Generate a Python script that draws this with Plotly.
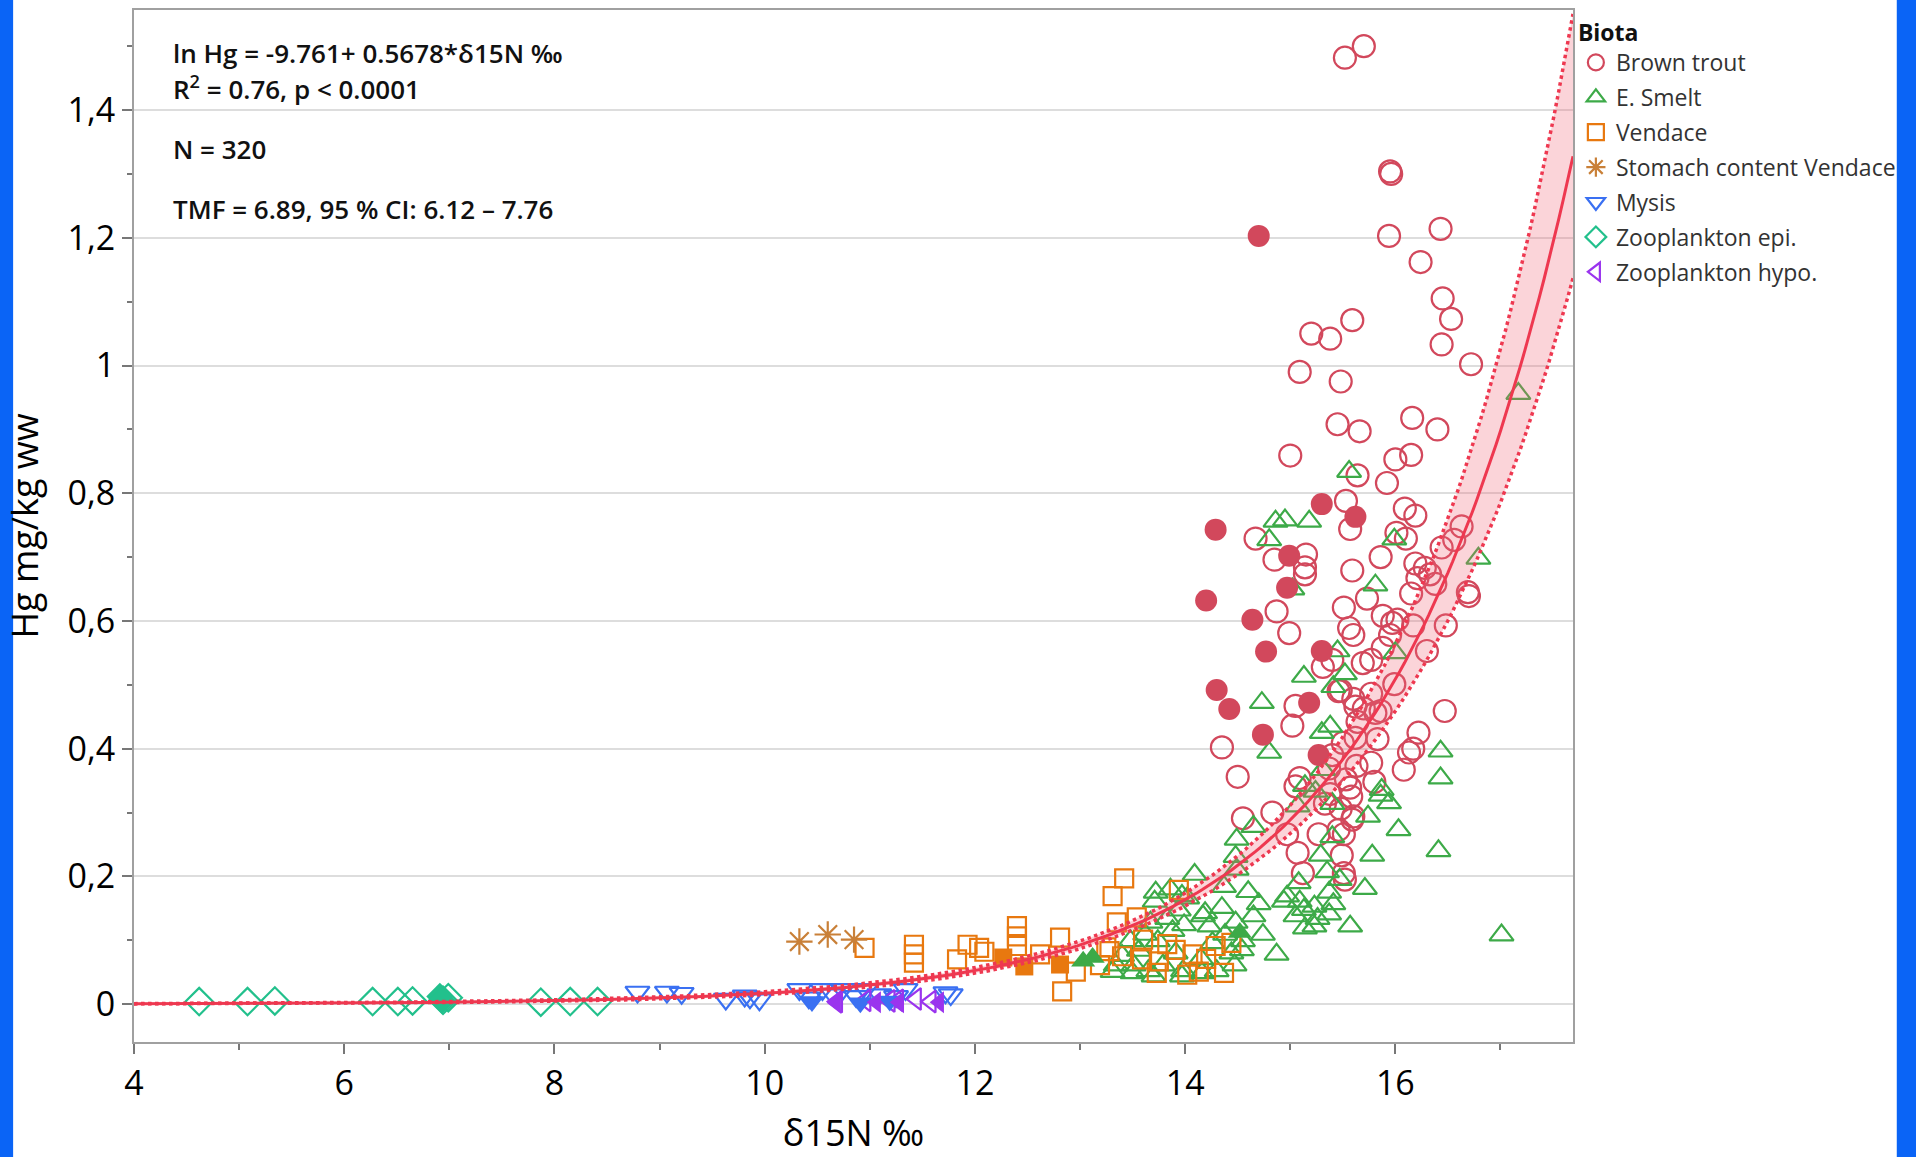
import numpy as np
import plotly.graph_objects as go

# ---------------- data ----------------
trout_x = [15.52, 15.70, 15.95, 15.96, 15.94, 16.43, 16.24, 16.45, 16.53, 16.44, 16.72, 15.59, 15.20, 15.38,
           15.09, 15.48, 15.45, 15.66, 15.00, 16.16, 16.40, 16.15, 16.00, 15.64, 15.92, 15.53, 16.09, 16.19,
           15.57, 16.01, 16.10, 16.63, 16.56, 14.67, 14.85, 15.15, 15.14, 15.14, 14.87, 15.59, 15.86, 16.19,
           16.21, 16.15, 16.44, 16.38, 16.33, 16.70, 16.69, 15.73, 15.51, 15.88, 16.02, 16.17, 16.48, 14.99,
           15.56, 15.60, 15.88, 15.95, 15.77, 15.69, 15.40, 15.31, 16.30, 15.48, 15.60, 15.70, 15.64, 15.05,
           15.02, 15.86, 16.47, 15.77, 15.99, 15.50, 15.62, 15.83, 16.22, 16.17, 16.13, 16.08, 14.35, 14.50,
           15.09, 15.40, 15.37, 15.53, 15.63, 15.80, 15.38, 15.58, 15.33, 15.48, 15.60, 14.55, 14.83, 14.97,
           15.27, 15.51, 15.49, 15.07, 15.12, 15.51, 15.52, 15.05, 15.77, 16.28, 15.97, 15.46, 15.62, 15.81,
           15.57, 15.46, 15.59]
trout_y = [1.482, 1.500, 1.304, 1.300, 1.203, 1.214, 1.162, 1.105, 1.073, 1.033, 1.002, 1.071, 1.050, 1.042,
           0.990, 0.975, 0.908, 0.897, 0.859, 0.918, 0.900, 0.860, 0.853, 0.828, 0.816, 0.788, 0.776, 0.765,
           0.744, 0.738, 0.729, 0.748, 0.727, 0.729, 0.696, 0.704, 0.684, 0.673, 0.615, 0.679, 0.700, 0.690,
           0.667, 0.643, 0.715, 0.658, 0.673, 0.639, 0.645, 0.635, 0.621, 0.608, 0.602, 0.593, 0.593, 0.581,
           0.589, 0.578, 0.558, 0.578, 0.539, 0.534, 0.539, 0.528, 0.553, 0.491, 0.478, 0.463, 0.442, 0.467,
           0.436, 0.459, 0.459, 0.486, 0.501, 0.409, 0.417, 0.415, 0.425, 0.400, 0.394, 0.367, 0.402, 0.356,
           0.354, 0.390, 0.369, 0.352, 0.373, 0.348, 0.329, 0.325, 0.314, 0.306, 0.294, 0.291, 0.300, 0.266,
           0.266, 0.266, 0.233, 0.237, 0.205, 0.205, 0.195, 0.341, 0.378, 0.683, 0.597, 0.490, 0.466, 0.456,
           0.339, 0.273, 0.289]
trout_fill_x = [14.70, 14.29, 14.20, 14.64, 14.77, 15.30, 15.62, 14.99, 14.97, 15.30, 14.30, 14.42, 14.74, 15.18, 15.27]
trout_fill_y = [1.203, 0.743, 0.632, 0.602, 0.552, 0.783, 0.763, 0.702, 0.652, 0.553, 0.492, 0.462, 0.422, 0.472, 0.390]

smelt_x = [17.17, 16.79, 15.56, 14.86, 14.95, 15.18, 14.80, 15.02, 15.81, 15.99, 15.52, 15.13, 14.73, 14.80,
           15.45, 15.41, 15.38, 15.30, 16.00, 16.43, 16.43, 16.41, 16.03, 15.94, 15.86, 15.78, 15.74, 15.71,
           15.87, 14.49, 14.65, 14.48, 15.07, 15.14, 15.24, 15.31, 15.40, 15.29, 15.40, 15.35, 15.47, 15.37,
           15.08, 15.13, 14.97, 15.23, 15.09, 15.23, 14.94, 15.05, 15.14, 15.41, 15.37, 15.57, 15.26, 14.87,
           14.70, 14.65, 14.74, 14.60, 14.49, 14.37, 14.35, 14.48, 14.55, 14.54, 17.01, 14.09, 14.02, 13.94,
           13.86, 13.97, 13.72, 13.83, 13.71, 13.67, 13.62, 13.74, 13.88, 13.99, 14.17, 14.19, 14.23, 14.26,
           14.15, 13.91, 13.79, 13.65, 13.51, 13.40, 13.34, 13.48, 13.56, 13.98, 13.97, 13.70, 13.50, 13.31,
           14.16, 14.44, 14.38, 14.47, 14.30]
smelt_y = [0.956, 0.698, 0.834, 0.756, 0.758, 0.756, 0.727, 0.650, 0.656, 0.728, 0.517, 0.513, 0.472, 0.394,
           0.553, 0.497, 0.435, 0.425, 0.550, 0.396, 0.354, 0.240, 0.273, 0.315, 0.327, 0.233, 0.294, 0.181,
           0.336, 0.258, 0.278, 0.231, 0.310, 0.342, 0.333, 0.367, 0.314, 0.233, 0.262, 0.207, 0.195, 0.175,
           0.190, 0.148, 0.169, 0.122, 0.161, 0.153, 0.161, 0.138, 0.119, 0.157, 0.141, 0.122, 0.134, 0.078,
           0.157, 0.138, 0.109, 0.176, 0.211, 0.184, 0.151, 0.128, 0.099, 0.085, 0.108, 0.203, 0.166, 0.147,
           0.180, 0.170, 0.175, 0.134, 0.161, 0.128, 0.109, 0.099, 0.115, 0.124, 0.138, 0.143, 0.122, 0.096,
           0.071, 0.080, 0.061, 0.052, 0.061, 0.076, 0.061, 0.099, 0.084, 0.052, 0.044, 0.044, 0.049, 0.051,
           0.049, 0.080, 0.109, 0.061, 0.052]
smelt_fill_x = [13.03, 13.12, 14.52]
smelt_fill_y = [0.067, 0.073, 0.112]

vendace_x = [10.95, 11.42, 11.42, 11.42, 11.83, 11.93, 12.04, 12.09, 12.40, 12.40, 12.40, 12.62, 12.81, 12.83,
             12.96, 13.19, 13.25, 13.31, 13.35, 13.40, 13.42, 13.54, 13.59, 13.60, 13.73, 13.75, 13.83, 13.91,
             13.94, 14.02, 14.07, 14.13, 14.29, 14.37, 14.44, 13.28, 14.20]
vendace_y = [0.088, 0.093, 0.078, 0.065, 0.070, 0.093, 0.088, 0.082, 0.122, 0.106, 0.091, 0.078, 0.104, 0.020,
             0.051, 0.061, 0.089, 0.169, 0.128, 0.075, 0.197, 0.136, 0.070, 0.101, 0.049, 0.067, 0.094, 0.085,
             0.179, 0.046, 0.078, 0.051, 0.091, 0.049, 0.096, 0.083, 0.071]
vendace_fill_x = [12.27, 12.47, 12.81]
vendace_fill_y = [0.073, 0.059, 0.062]

stomach_x = [10.33, 10.60, 10.85]
stomach_y = [0.098, 0.109, 0.101]

mysis_x = [8.79, 9.07, 9.21, 9.63, 9.81, 9.86, 9.95, 10.33, 10.42, 10.55, 10.65, 10.74, 10.87, 10.96, 11.09,
           11.25, 11.34, 11.72, 11.77]
mysis_y = [0.019, 0.019, 0.017, 0.008, 0.013, 0.010, 0.007, 0.023, 0.010, 0.023, 0.015, 0.023, 0.012, 0.023,
           0.015, 0.012, 0.023, 0.018, 0.015]
mysis_fill_x = [10.45, 10.91, 11.19]
mysis_fill_y = [0.004, 0.002, 0.005]

epi_x = [4.62, 5.08, 5.34, 6.27, 6.51, 6.65, 6.94, 6.99, 7.87, 8.15, 8.41]
epi_y = [0.004, 0.004, 0.005, 0.004, 0.004, 0.005, 0.006, 0.010, 0.003, 0.004, 0.004]
epi_fill_x = [6.91, 6.93]
epi_fill_y = [0.012, 0.006]

hypo_x = [10.69, 10.96, 11.19, 11.27, 11.44, 11.58]
hypo_y = [0.004, 0.006, 0.005, 0.006, 0.008, 0.004]
hypo_fill_x = [10.68, 11.06, 11.28, 11.66]
hypo_fill_y = [0.002, 0.003, 0.003, 0.003]

# regression printed on the chart: ln Hg = -9.761 + 0.5678 * d15N
FIT_INTERCEPT = -9.761
FIT_SLOPE = 0.5678
SLOPE_CI_HALF = 0.035     # from TMF 95 % CI 6.12 - 7.76
MEAN_HALF = 0.06
X_MEAN = 13.6

y_tickvals = [0, 0.2, 0.4, 0.6, 0.8, 1.0, 1.2, 1.4]
y_ticktext = ["0", "0,2", "0,4", "0,6", "0,8", "1", "1,2", "1,4"]
x_tickvals = [4, 6, 8, 10, 12, 14, 16]

# ---------------- styles ----------------
C_TROUT = "#d2485c"
C_SMELT = "#3daa48"
C_VEND = "#e8780f"
C_STOM = "#c98038"
C_MYS = "#3a70f2"
C_EPI = "#22c08c"
C_HYPO = "#9a34ee"
C_FIT = "#ee3850"
FONT = "Open Sans"

fig = go.Figure()


def add(x, y, name, symbol, color, size, group, rank, show=True, filled=False):
    if filled:
        marker = dict(symbol=symbol, size=size, color=color, line=dict(width=0, color=color))
    else:
        marker = dict(symbol=symbol, size=size, color=color, line=dict(width=2.2, color=color))
    fig.add_trace(go.Scatter(x=x, y=y, mode="markers", name=name, marker=marker,
                             legendgroup=group, legendrank=rank,
                             showlegend=show, hoverinfo="x+y+name"))


add(trout_x, trout_y, "Brown trout", "circle-open", C_TROUT, 22, "g1", 1)
add(smelt_x, smelt_y, "E. Smelt", "triangle-up-open", C_SMELT, 21, "g2", 2)
add(vendace_x, vendace_y, "Vendace", "square-open", C_VEND, 18, "g3", 3)
add(stomach_x, stomach_y, "Stomach content Vendace", "asterisk-open", C_STOM, 22, "g4", 4)
add(mysis_x, mysis_y, "Mysis", "triangle-down-open", C_MYS, 21, "g5", 5)
add(epi_x, epi_y, "Zooplankton epi.", "diamond-open", C_EPI, 21, "g6", 6)
add(hypo_x, hypo_y, "Zooplankton hypo.", "triangle-left-open", C_HYPO, 19, "g7", 7)

add(trout_fill_x, trout_fill_y, "Brown trout", "circle", C_TROUT, 22, "g1", 1, show=False, filled=True)
add(smelt_fill_x, smelt_fill_y, "E. Smelt", "triangle-up", C_SMELT, 21, "g2", 2, show=False, filled=True)
add(vendace_fill_x, vendace_fill_y, "Vendace", "square", C_VEND, 18, "g3", 3, show=False, filled=True)
add(mysis_fill_x, mysis_fill_y, "Mysis", "triangle-down", C_MYS, 21, "g5", 5, show=False, filled=True)
add(epi_fill_x, epi_fill_y, "Zooplankton epi.", "diamond", C_EPI, 21, "g6", 6, show=False, filled=True)
add(hypo_fill_x, hypo_fill_y, "Zooplankton hypo.", "triangle-left", C_HYPO, 19, "g7", 7, show=False, filled=True)

# regression curve and confidence band
xf = np.linspace(4.0, 17.69, 300)
ln_fit = FIT_INTERCEPT + FIT_SLOPE * xf
half = np.sqrt(MEAN_HALF ** 2 + (SLOPE_CI_HALF * (xf - X_MEAN)) ** 2)
fig.add_trace(go.Scatter(x=xf, y=np.exp(ln_fit - half), mode="lines", showlegend=False,
                         line=dict(color=C_FIT, width=3.5, dash="dot"), hoverinfo="skip"))
fig.add_trace(go.Scatter(x=xf, y=np.exp(ln_fit + half), mode="lines", showlegend=False, fill="tonexty",
                         fillcolor="rgba(240,100,120,0.28)",
                         line=dict(color=C_FIT, width=3.5, dash="dot"), hoverinfo="skip"))
fig.add_trace(go.Scatter(x=xf, y=np.exp(ln_fit), mode="lines", showlegend=False,
                         line=dict(color=C_FIT, width=3), hoverinfo="skip"))

# annotations
ann_font = dict(family=FONT, size=26, color="#111111", weight=600)
texts = [("ln Hg = -9.761+ 0.5678*δ15N ‰", 0.9585),
         ("R<sup>2</sup> = 0.76, p &lt; 0.0001", 0.9245),
         ("N = 320", 0.8655),
         ("TMF = 6.89, 95 % CI: 6.12 – 7.76", 0.8075)]
for t, yy in texts:
    fig.add_annotation(text=t, xref="paper", yref="paper", x=0.0257, y=yy, xanchor="left",
                       yanchor="middle", showarrow=False, font=ann_font)

# blue side strips of the page
for x0, x1 in [(-0.0932, -0.0840), (1.2250, 1.24)]:
    fig.add_shape(type="rect", xref="paper", yref="paper", x0=x0, x1=x1, y0=-0.12, y1=1.02,
                  fillcolor="#0a64f6", line=dict(width=0), layer="below")

axis_common = dict(showline=True, linecolor="#a0a0a0", linewidth=2, mirror=True, automargin=False,
                   ticks="outside", ticklen=10, tickwidth=1.5, tickcolor="#777777",
                   tickfont=dict(family=FONT, size=34, color="#000000"), zeroline=False)

fig.update_layout(
    width=1916, height=1157,
    margin=dict(l=134, r=343, t=10, b=115, autoexpand=False),
    paper_bgcolor="white", plot_bgcolor="white",
    font=dict(family=FONT, color="#111111"),
    xaxis=dict(range=[4, 17.69], tickvals=x_tickvals, showgrid=False,
               minor=dict(dtick=1, tick0=5, ticks="outside", ticklen=6, tickcolor="#777777", showgrid=False),
               title=dict(text="δ15N ‰", font=dict(family=FONT, size=36, color="#000000"), standoff=30),
               **axis_common),
    yaxis=dict(range=[-0.0593, 1.5567], tickvals=y_tickvals, ticktext=y_ticktext,
               showgrid=True, gridcolor="#dddddd", gridwidth=2,
               minor=dict(dtick=0.1, tick0=0.1, ticks="outside", ticklen=5, tickcolor="#777777", showgrid=False),
               title=dict(text="Hg mg/kg ww", font=dict(family=FONT, size=36, color="#000000"), standoff=18),
               **axis_common),
    legend=dict(x=1.002, y=0.999, xanchor="left", yanchor="top", bgcolor="rgba(0,0,0,0)",
                font=dict(family=FONT, size=23, color="#333333"),
                title=dict(text="<b>Biota</b>", font=dict(family=FONT, size=23, color="#111111")),
                traceorder="grouped", itemsizing="trace", tracegroupgap=2),
    showlegend=True,
)

fig.write_html("out.html")
